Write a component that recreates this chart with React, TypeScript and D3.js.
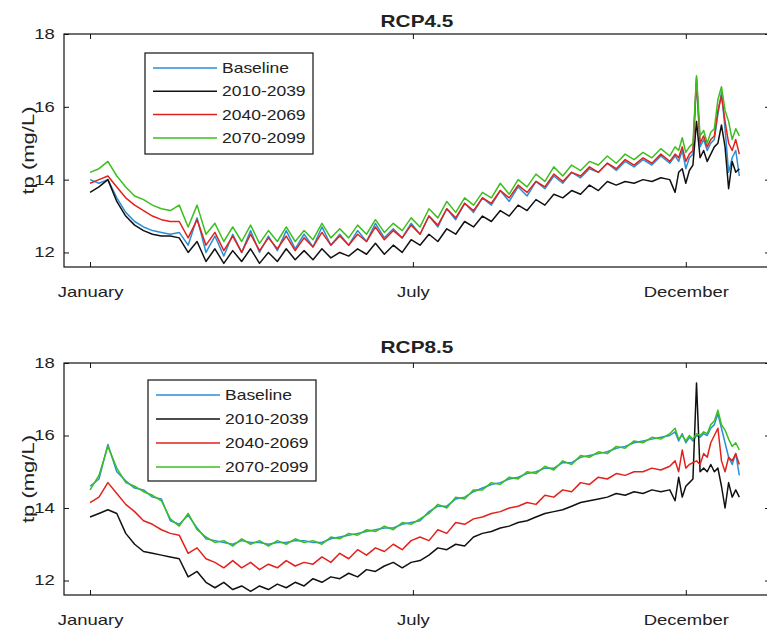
import React, { useRef, useEffect } from 'react';
import { select, scaleLinear, line, range, axisBottom, axisLeft, axisTop, axisRight } from 'd3';

// day of year for each sample (every 5 days, then every 2 days in December)
const days = [...range(0, 326, 5), ...range(328, 365, 2)];
const seriesNames = ['Baseline', '2010-2039', '2040-2069', '2070-2099'];
const monthTicks = [0, 181, 334];
const monthLabels = ['January', 'July', 'December'];
const yTicks = [12, 14, 16, 18];

// RCP4.5
const rcp45Baseline = [
  14.0, 13.9, 14.0, 13.5, 13.1, 12.85, 12.7, 12.6, 12.55, 12.5,
  12.55, 12.2, 12.95, 12.0, 12.45, 11.9, 12.5, 12.0, 12.6, 12.0,
  12.45, 12.05, 12.6, 12.1, 12.5, 12.15, 12.7, 12.2, 12.5, 12.2,
  12.6, 12.3, 12.8, 12.4, 12.65, 12.4, 12.8, 12.5, 13.0, 12.7,
  13.2, 12.9, 13.35, 13.1, 13.5, 13.3, 13.7, 13.4, 13.8, 13.55,
  13.95, 13.75, 14.1, 13.9, 14.2, 14.05, 14.3, 14.2, 14.45, 14.25,
  14.5, 14.35, 14.55, 14.4, 14.65, 14.45,
  14.65, 14.5, 14.8, 14.3, 14.6, 14.7, 16.7, 14.9, 15.1, 14.8,
  15.0, 15.1, 15.8, 16.4, 15.4, 14.2, 14.6, 14.8, 14.1
];
const rcp45Near = [
  13.65, 13.8, 14.0, 13.4, 13.0, 12.75, 12.6, 12.5, 12.45, 12.45,
  12.4, 12.0, 12.3, 11.75, 12.1, 11.7, 12.05, 11.75, 12.1, 11.7,
  12.0, 11.75, 12.1, 11.8, 12.05, 11.8, 12.1, 11.85, 12.0, 11.9,
  12.1, 11.95, 12.25, 11.95, 12.2, 12.0, 12.35, 12.2, 12.5, 12.3,
  12.65, 12.5, 12.85, 12.7, 13.0, 12.85, 13.15, 13.0, 13.3, 13.15,
  13.45, 13.3, 13.6, 13.5, 13.7, 13.6, 13.85, 13.7, 13.95, 13.85,
  13.95, 13.9, 14.0, 13.95, 14.05, 14.0,
  13.65, 14.2, 14.3, 13.9, 14.25, 14.4, 15.6, 14.6, 14.8, 14.5,
  14.7, 14.9, 15.0, 15.5, 14.9, 13.75, 14.5, 14.2, 14.3
];
const rcp45Mid = [
  13.9, 14.0, 14.1, 13.8, 13.5, 13.3, 13.15, 13.0, 12.9, 12.85,
  12.85, 12.4, 12.9, 12.2, 12.55, 12.05, 12.45, 12.0, 12.5, 12.05,
  12.4, 12.1, 12.45, 12.05, 12.4, 12.15, 12.55, 12.2, 12.45, 12.2,
  12.5, 12.3, 12.7, 12.35, 12.6, 12.4, 12.75, 12.5, 13.0, 12.75,
  13.2, 12.95, 13.35, 13.15, 13.5, 13.35, 13.7, 13.5, 13.85, 13.65,
  13.95, 13.8, 14.15, 13.95, 14.2, 14.1, 14.35, 14.2, 14.45, 14.3,
  14.55, 14.4, 14.6, 14.45, 14.7, 14.5,
  14.7, 14.6, 14.9, 14.5, 14.7, 14.8, 16.8, 15.0, 15.2, 14.9,
  15.1, 15.2, 15.9, 16.3, 15.6, 15.0, 14.8, 15.1, 14.7
];
const rcp45Far = [
  14.2, 14.3, 14.5, 14.1, 13.8, 13.55, 13.45, 13.3, 13.2, 13.15,
  13.3, 12.7, 13.3, 12.5, 12.8, 12.3, 12.7, 12.3, 12.75, 12.25,
  12.6, 12.3, 12.7, 12.3, 12.6, 12.35, 12.8, 12.4, 12.65, 12.4,
  12.75, 12.5, 12.9, 12.55, 12.8, 12.6, 12.95, 12.7, 13.2, 12.95,
  13.4, 13.1, 13.5, 13.3, 13.65, 13.5, 13.9, 13.6, 14.0, 13.8,
  14.15, 13.95, 14.35, 14.1, 14.4, 14.25, 14.5, 14.4, 14.65, 14.45,
  14.7, 14.55, 14.75, 14.6, 14.85, 14.65,
  14.9, 14.8, 15.15, 14.75, 14.9, 15.0, 16.85, 15.2, 15.35, 15.0,
  15.3, 15.4, 16.2, 16.55, 15.9, 15.6, 15.1, 15.4, 15.2
];

// RCP8.5
const rcp85Baseline = [
  14.6, 14.8, 15.75, 15.0, 14.75, 14.55, 14.5, 14.3, 14.25, 13.65,
  13.55, 13.8, 13.45, 13.15, 13.1, 13.05, 13.0, 13.1, 13.05, 13.05,
  13.0, 13.05, 13.05, 13.1, 13.1, 13.05, 13.05, 13.15, 13.2, 13.25,
  13.3, 13.35, 13.4, 13.45, 13.45, 13.55, 13.6, 13.65, 13.9, 14.05,
  14.05, 14.25, 14.3, 14.45, 14.55, 14.65, 14.7, 14.8, 14.85, 14.95,
  15.0, 15.1, 15.1, 15.25, 15.25, 15.4, 15.45, 15.5, 15.55, 15.65,
  15.7, 15.8, 15.85, 15.9, 15.95, 16.0,
  16.1, 15.85, 16.05, 15.8, 15.95, 15.85, 16.0, 15.95, 16.05, 16.0,
  16.2, 16.3, 16.6, 16.2, 15.8, 15.4, 15.2, 15.5, 14.9
];
const rcp85Near = [
  13.75, 13.85, 13.95, 13.85, 13.3, 13.0, 12.8, 12.75, 12.7, 12.65,
  12.6, 12.1, 12.25, 11.95, 11.8, 11.95, 11.75, 11.85, 11.7, 11.85,
  11.75, 11.9, 11.8, 11.95, 11.85, 12.05, 11.95, 12.1, 12.05, 12.2,
  12.1, 12.3, 12.25, 12.4, 12.5, 12.35, 12.5, 12.55, 12.7, 12.9,
  12.85, 13.0, 12.95, 13.2, 13.3, 13.35, 13.45, 13.5, 13.6, 13.65,
  13.75, 13.85, 13.9, 13.95, 14.05, 14.15, 14.2, 14.25, 14.3, 14.4,
  14.35, 14.45, 14.4, 14.5, 14.45, 14.5,
  14.2, 14.85, 14.3, 14.6, 14.7, 14.8, 17.45, 15.0, 15.1, 15.0,
  15.2, 15.0, 15.1, 14.6, 14.0, 14.7, 14.3, 14.5, 14.3
];
const rcp85Mid = [
  14.15, 14.3, 14.7, 14.4, 14.1, 13.9, 13.65, 13.55, 13.4, 13.3,
  13.25, 12.75, 12.9, 12.6, 12.5, 12.35, 12.55, 12.35, 12.5, 12.3,
  12.45, 12.35, 12.55, 12.4, 12.5, 12.45, 12.65, 12.5, 12.75, 12.6,
  12.85, 12.7, 12.9, 12.8, 13.0, 12.85, 13.1, 13.2, 13.1, 13.4,
  13.3, 13.6, 13.55, 13.7, 13.75, 13.85, 13.9, 14.0, 14.05, 14.15,
  14.1, 14.35, 14.3, 14.5, 14.45, 14.7, 14.65, 14.85, 14.8, 14.95,
  14.9, 15.0, 15.0, 15.1, 15.05, 15.15,
  15.3, 15.0, 15.6, 15.1, 15.2, 15.25, 15.3, 15.2, 15.5, 15.4,
  15.8, 16.0, 16.2, 15.3, 15.0, 15.4, 15.3, 15.5, 15.2
];
const rcp85Far = [
  14.5, 14.9, 15.7, 15.1, 14.7, 14.6, 14.45, 14.35, 14.2, 13.7,
  13.5, 13.85, 13.4, 13.2, 13.05, 13.1, 12.95, 13.15, 13.0, 13.1,
  12.95, 13.1, 13.0, 13.15, 13.05, 13.1, 13.0, 13.2, 13.15, 13.3,
  13.25, 13.4, 13.35, 13.5, 13.4, 13.6, 13.55, 13.7, 13.85, 14.1,
  14.0, 14.3, 14.25, 14.5, 14.5, 14.7, 14.65, 14.85, 14.8, 15.0,
  14.95, 15.15, 15.05, 15.3, 15.2, 15.45, 15.4, 15.55, 15.5, 15.7,
  15.65, 15.85, 15.8, 15.95, 15.9, 16.05,
  16.2, 15.9, 16.0, 15.85, 16.0, 15.9, 16.05, 16.0, 16.1, 16.05,
  16.3, 16.4, 16.7, 16.3, 16.15, 15.9, 15.7, 15.8, 15.6
];

const colors = ['#2a8fd6', '#111111', '#e3211c', '#3cbf1e'];
const font = "'Liberation Sans', Arial, sans-serif";

const panels = [
  {
    title: 'RCP4.5', top: 34, bottom: 267, titleY: 27,
    legend: { x: 145, y: 53, step: 23.3 },
    series: [rcp45Baseline, rcp45Near, rcp45Mid, rcp45Far]
  },
  {
    title: 'RCP8.5', top: 363, bottom: 595, titleY: 353,
    legend: { x: 148, y: 380, step: 24 },
    series: [rcp85Baseline, rcp85Near, rcp85Mid, rcp85Far]
  }
];

const left = 64;
const right = 770;

const drawPanel = (svg: any, p: any, idx: number) => {
  const x = scaleLinear().domain([-14.6, 381.2]).range([left, right]);
  const y = scaleLinear().domain([11.6, 18]).range([p.bottom, p.top]);

  const clipId = `plot-clip-${idx}`;
  svg.append('clipPath').attr('id', clipId)
    .append('rect')
    .attr('x', left).attr('y', p.top)
    .attr('width', right - left).attr('height', p.bottom - p.top);

  const path = line<number>()
    .x((_, i) => x(days[i]))
    .y(d => y(d));

  const plot = svg.append('g').attr('clip-path', `url(#${clipId})`);
  p.series.forEach((s: number[], i: number) => {
    plot.append('path')
      .attr('d', path(s))
      .attr('fill', 'none')
      .attr('stroke', colors[i])
      .attr('stroke-width', 1.5)
      .attr('stroke-linejoin', 'round');
  });

  svg.append('rect')
    .attr('x', left).attr('y', p.top)
    .attr('width', right - left).attr('height', p.bottom - p.top)
    .attr('fill', 'none').attr('stroke', '#111').attr('stroke-width', 1.2);

  const xb = svg.append('g')
    .attr('transform', `translate(0,${p.bottom})`)
    .call(axisBottom(x).tickValues(monthTicks)
      .tickFormat((_: any, i: number) => monthLabels[i])
      .tickSizeInner(-5).tickSizeOuter(0).tickPadding(20));
  const xt = svg.append('g')
    .attr('transform', `translate(0,${p.top})`)
    .call(axisTop(x).tickValues(monthTicks).tickFormat(() => '')
      .tickSizeInner(-5).tickSizeOuter(0));
  const yl = svg.append('g')
    .attr('transform', `translate(${left},0)`)
    .call(axisLeft(y).tickValues(yTicks).tickFormat((d: any) => String(d))
      .tickSizeInner(-5).tickSizeOuter(0).tickPadding(7));
  const yr = svg.append('g')
    .attr('transform', `translate(${right},0)`)
    .call(axisRight(y).tickValues(yTicks).tickFormat(() => '')
      .tickSizeInner(-5).tickSizeOuter(0));

  [xb, xt, yl, yr].forEach(a => {
    a.select('.domain').remove();
    a.attr('font-size', 14).attr('font-family', font);
    a.selectAll('line').attr('stroke', '#111');
    a.selectAll('text').attr('fill', '#222').attr('transform', 'scale(1.32,1)');
  });

  // title
  svg.append('text')
    .attr('transform', `translate(${(left + right) / 2},${p.titleY}) scale(1.3,1)`)
    .attr('text-anchor', 'middle')
    .attr('font-family', font).attr('font-size', 16).attr('font-weight', 'bold')
    .attr('fill', '#222')
    .text(p.title);

  // y label
  svg.append('text')
    .attr('transform', `translate(34,${(p.top + p.bottom) / 2}) rotate(-90)`)
    .attr('text-anchor', 'middle')
    .attr('font-family', font).attr('font-size', 16)
    .attr('textLength', 88).attr('lengthAdjust', 'spacingAndGlyphs')
    .attr('fill', '#222')
    .text('tp (mg/L)');

  // legend
  const lg = svg.append('g');
  const { x: lx, y: ly, step } = p.legend;
  lg.append('rect')
    .attr('x', lx).attr('y', ly).attr('width', 168).attr('height', 101)
    .attr('fill', '#fff').attr('stroke', '#111').attr('stroke-width', 1.2);
  seriesNames.forEach((name, i) => {
    const ry = ly + 15 + i * step;
    lg.append('line')
      .attr('x1', lx + 8).attr('x2', lx + 72)
      .attr('y1', ry).attr('y2', ry)
      .attr('stroke', colors[i]).attr('stroke-width', 1.5);
    lg.append('text')
      .attr('transform', `translate(${lx + 77},${ry + 5}) scale(1.25,1)`)
      .attr('font-family', font).attr('font-size', 14)
      .attr('fill', '#222')
      .text(name);
  });
};

const App = () => {
  const ref = useRef<SVGSVGElement>(null);

  useEffect(() => {
    const svg = select(ref.current);
    svg.selectAll('*').remove();
    panels.forEach((p, i) => drawPanel(svg, p, i));
  }, []);

  return (
    <svg
      ref={ref}
      width={767}
      height={628}
      style={{ position: 'absolute', left: 0, top: 0, background: '#fff' }}
    />
  );
};

export default App;
